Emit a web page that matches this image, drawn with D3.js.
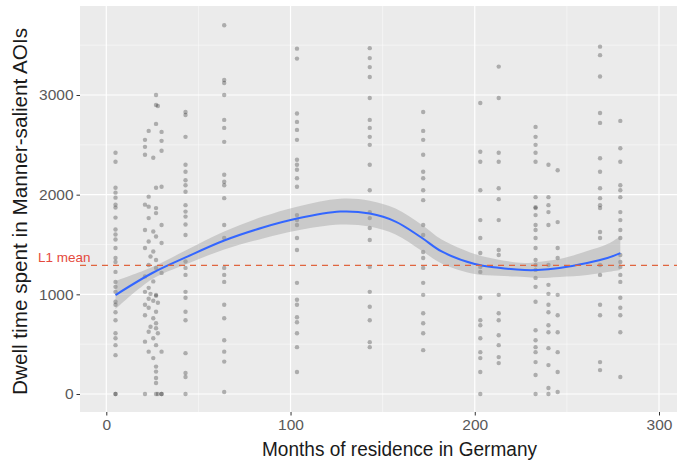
<!DOCTYPE html>
<html>
<head>
<meta charset="utf-8">
<script src="https://cdn.jsdelivr.net/npm/d3@7"></script>
<style>
  html, body { margin: 0; padding: 0; background: #ffffff; }
  svg { display: block; font-family: "Liberation Sans", Arial, sans-serif; }
</style>
</head>
<body>
<svg id="chart" width="677" height="463"></svg>
<script>
// Months of residence per participant (x) and their dwell times (ms)
const residenceMonths = [5, 21, 23, 24, 25.5, 27, 28, 30, 43, 64, 103.5, 143, 172, 203, 213, 233, 240, 245, 268, 279];
const dwellTimes = [
  [2420, 2330, 2070, 2020, 1970, 1900, 1870, 1770, 1650, 1600, 1550, 1465, 1365, 1325, 1225, 1125, 1075, 1025, 925, 895, 820, 740, 610, 560, 490, 390, 0, 0],
  [2550, 2480, 2400, 1900, 1645, 1465, 1180, 1025, 895, 790, 525, 0],
  [2640, 1980, 1880, 1765, 1530, 1295, 1065, 955, 865, 625, 425],
  [1380, 1005, 675],
  [2370, 1630, 1430, 1130, 935, 760, 560, 360],
  [3000, 2900, 2710, 2070, 1865, 1815, 1580, 1345, 1265, 995, 985, 825, 710, 660, 490, 275, 225, 160, 110, 0],
  [2890, 915, 610, 0],
  [2630, 2540, 2440, 2080, 1695, 1515, 1215, 425, 0, 0],
  [2830, 2800, 2580, 2300, 2230, 2145, 2095, 2030, 1895, 1830, 1780, 1700, 1595, 1330, 1265, 1195, 1025, 965, 825, 740, 410, 210, 170, 0],
  [3700, 3150, 3120, 3000, 2750, 2670, 2530, 2200, 2130, 2095, 1965, 1695, 1565, 1265, 1195, 1125, 895, 760, 540, 425, 325, 20],
  [3465, 3365, 2815, 2730, 2650, 2550, 2350, 2300, 2250, 2165, 2080, 1795, 1745, 1695, 1565, 1445, 1115, 945, 895, 770, 720, 610, 470, 220],
  [3470, 3370, 3280, 3180, 2970, 2750, 2670, 2580, 2500, 2300, 2045, 1825, 1765, 1665, 1545, 1275, 1025, 875, 740, 520, 470],
  [2830, 2640, 2550, 2400, 2230, 2165, 2045, 1945, 1695, 1595, 1425, 1365, 1265, 1115, 995, 810, 710, 610, 440],
  [2920, 2430, 2330, 2045, 1745, 1565, 1415, 1275, 1225, 965, 740, 690, 560, 420, 360, 220, 0],
  [3285, 2970, 2420, 2330, 2065, 1955, 1745, 1445, 1395, 995, 810, 740, 590, 490, 370, 310],
  [2680, 2580, 2500, 2420, 2330, 1975, 1875, 1865, 1795, 1695, 1645, 1565, 1465, 1345, 1295, 1245, 1165, 1075, 925, 640, 540, 470, 420, 320, 190, 0],
  [2300, 1975, 1895, 1825, 1695, 1295, 1095, 1005, 895, 820, 690, 620, 460, 290, 60, 0],
  [2245, 1725, 1465, 1365, 995, 790, 620, 420, 220, 20],
  [3485, 3400, 3185, 2820, 2720, 2365, 2230, 2065, 1965, 1895, 1865, 1625, 1565, 1295, 1195, 895, 790, 320, 240],
  [2740, 2465, 2330, 2095, 2045, 1975, 1825, 1745, 1645, 1565, 1395, 1325, 1275, 1195, 1125, 965, 865, 790, 620, 170]
];

// Smoothed trend (fit and standard error) along the months axis
const fitMonths = [5, 25, 43, 64, 85, 103.5, 127, 143, 157, 171, 182, 200, 213, 227, 234, 246, 261, 272, 279];
const fitValues = [993, 1214, 1370, 1540, 1670, 1760, 1830, 1810, 1730, 1570, 1430, 1304, 1267, 1244, 1244, 1264, 1314, 1364, 1414];
const fitSE     = [140, 60, 70, 90, 110, 120, 130, 130, 130, 130, 120, 100, 80, 70, 80, 90, 120, 140, 170];

const l1Mean = 1290;

const xTicks = [0, 100, 200, 300];
const xMinor = [50, 150, 250];
const yTicks = [0, 1000, 2000, 3000];
const yMinor = [500, 1500, 2500, 3500];

const svg = d3.select("#chart");
const panel = { left: 80, top: 6, right: 719, bottom: 412 };

const x = d3.scaleLinear().domain([0, 300]).range([106.3, 659]);
const y = d3.scaleLinear().domain([0, 3000]).range([394, 95]);

// panel background
svg.append("rect")
  .attr("x", panel.left).attr("y", panel.top)
  .attr("width", panel.right - panel.left).attr("height", panel.bottom - panel.top)
  .attr("fill", "#ebebeb");

svg.append("clipPath").attr("id", "panelClip")
  .append("rect")
  .attr("x", panel.left).attr("y", panel.top)
  .attr("width", panel.right - panel.left).attr("height", panel.bottom - panel.top);

const grid = svg.append("g").attr("clip-path", "url(#panelClip)");
grid.selectAll(".ymin").data(yMinor).join("line")
  .attr("x1", panel.left).attr("x2", panel.right)
  .attr("y1", d => y(d)).attr("y2", d => y(d))
  .attr("stroke", "#fafafa").attr("stroke-width", 0.6);
grid.selectAll(".xmin").data(xMinor).join("line")
  .attr("y1", panel.top).attr("y2", panel.bottom)
  .attr("x1", d => x(d)).attr("x2", d => x(d))
  .attr("stroke", "#fafafa").attr("stroke-width", 0.6);
grid.selectAll(".ymaj").data(yTicks).join("line")
  .attr("x1", panel.left).attr("x2", panel.right)
  .attr("y1", d => y(d)).attr("y2", d => y(d))
  .attr("stroke", "#ffffff").attr("stroke-width", 1.2);
grid.selectAll(".xmaj").data(xTicks).join("line")
  .attr("y1", panel.top).attr("y2", panel.bottom)
  .attr("x1", d => x(d)).attr("x2", d => x(d))
  .attr("stroke", "#ffffff").attr("stroke-width", 1.2);

// scatter points
const points = residenceMonths.flatMap((m, i) => dwellTimes[i].map(v => ({ m, v })));
const plot = svg.append("g").attr("clip-path", "url(#panelClip)");
plot.selectAll("circle").data(points).join("circle")
  .attr("cx", d => x(d.m)).attr("cy", d => y(d.v))
  .attr("r", 2.2)
  .attr("fill", "#1a1a1a").attr("fill-opacity", 0.3);

// confidence band and fitted line
const fit = fitMonths.map((m, i) => ({ m, v: fitValues[i], se: fitSE[i] }));
const curve = d3.curveCatmullRom.alpha(0.5);
plot.append("path").datum(fit)
  .attr("d", d3.area().curve(curve)
    .x(d => x(d.m)).y0(d => y(d.v - d.se)).y1(d => y(d.v + d.se)))
  .attr("fill", "#999999").attr("fill-opacity", 0.4);
plot.append("path").datum(fit)
  .attr("d", d3.line().curve(curve).x(d => x(d.m)).y(d => y(d.v)))
  .attr("fill", "none").attr("stroke", "#3366ff").attr("stroke-width", 2);

// L1 reference line
svg.append("line")
  .attr("x1", panel.left).attr("x2", 677)
  .attr("y1", y(l1Mean)).attr("y2", y(l1Mean))
  .attr("stroke", "#e0653f").attr("stroke-width", 1.3)
  .attr("stroke-dasharray", "6,5");
svg.append("text")
  .attr("x", 38).attr("y", y(l1Mean) - 3.5)
  .attr("fill", "#e5493c").attr("font-size", 13.5)
  .text("L1 mean");

// axes
const xAxis = svg.append("g").attr("transform", `translate(0,${panel.bottom})`)
  .call(d3.axisBottom(x).tickValues(xTicks).tickSize(3.5).tickPadding(3).tickFormat(d3.format("d")));
const yAxis = svg.append("g").attr("transform", `translate(${panel.left},0)`)
  .call(d3.axisLeft(y).tickValues(yTicks).tickSize(3.5).tickPadding(3).tickFormat(d3.format("d")));
[xAxis, yAxis].forEach(a => {
  a.select(".domain").remove();
  a.selectAll(".tick line").attr("stroke", "#333333").attr("stroke-width", 1);
  a.selectAll(".tick text").attr("fill", "#595959").attr("font-size", 15.5)
    .attr("font-family", "'Liberation Sans', Arial, sans-serif");
});

// axis titles
svg.append("text")
  .attr("x", 399.5).attr("y", 456)
  .attr("text-anchor", "middle").attr("font-size", 19.5).attr("fill", "#1a1a1a")
  .attr("textLength", 275).attr("lengthAdjust", "spacingAndGlyphs")
  .text("Months of residence in Germany");
svg.append("text")
  .attr("transform", "translate(27,211.5) rotate(-90)")
  .attr("text-anchor", "middle").attr("font-size", 19.5).attr("fill", "#1a1a1a")
  .attr("textLength", 367).attr("lengthAdjust", "spacingAndGlyphs")
  .text("Dwell time spent in Manner-salient AOIs");
</script>
</body>
</html>
